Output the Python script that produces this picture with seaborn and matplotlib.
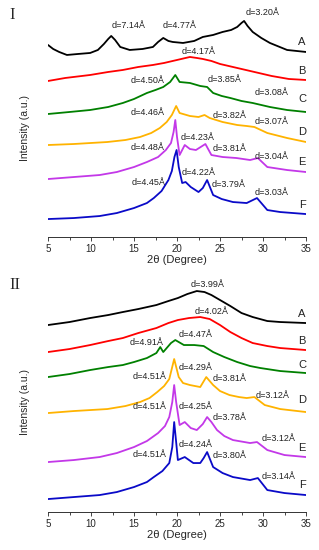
import numpy as np
import matplotlib
matplotlib.use("Agg")
import matplotlib.pyplot as plt
import seaborn as sns
import pandas as pd

fs = 6.5
ls = 7

# ---- panel I : 2theta (deg) and intensity (a.u.), stacked ----
tt_I_A = [5, 5.6, 6.3, 7.2, 8.5, 9.9, 10.8, 11.5, 12.0, 12.35, 12.8, 13.4, 14.5, 16, 17.2, 17.8, 18.4, 19, 19.5, 20.7, 22, 23, 24.2, 25.3, 26.3, 27, 27.5, 27.8, 28.2, 28.8, 29.8, 30.8, 32.8, 35]
in_I_A = [192, 188, 185, 182, 183, 184, 187, 193, 198, 201, 197, 190, 187, 188, 190, 195, 199, 196, 195, 194, 196, 200, 202, 205, 207, 210, 214, 216, 211, 205, 199, 194, 187, 185]
tt_I_B = [5, 7, 9.9, 12, 13.7, 15.5, 17.2, 18.5, 19.5, 20.5, 21.5, 22.3, 23, 24, 25, 27, 29, 31, 33, 35]
in_I_B = [156, 159, 162, 165, 167, 170, 172, 174, 176, 178, 180, 179, 178, 176, 173, 169, 165, 161, 158, 157]
tt_I_C = [5, 7.5, 9.9, 12, 13.7, 15, 16.5, 17.5, 18.4, 19.2, 19.8, 20.3, 21.5, 22.7, 23.5, 24.2, 25.2, 26.2, 27.5, 28.8, 30.8, 32.8, 35]
in_I_C = [123, 125, 127, 130, 134, 138, 144, 147, 150, 155, 162, 155, 154, 151, 150, 144, 141, 139, 136, 134, 130, 127, 125]
tt_I_D = [5, 8, 11.9, 14, 15.7, 17, 18, 18.8, 19.4, 19.9, 20.3, 21.5, 22.5, 23.2, 23.8, 25.3, 27, 28.1, 29, 30.5, 32.8, 35]
in_I_D = [92, 93, 95, 97, 100, 104, 109, 115, 122, 131, 124, 121, 120, 122, 119, 115, 112, 111, 110, 104, 99, 95]
tt_I_E = [5, 8, 11, 13, 15, 16.5, 17.8, 18.7, 19.3, 19.6, 19.8, 20.0, 20.3, 20.9, 21.5, 22.2, 23.3, 24, 25.3, 26.9, 28.5, 29.4, 30.5, 32.8, 35]
in_I_E = [58, 60, 62, 65, 70, 75, 80, 87, 94, 105, 117, 100, 82, 92, 88, 87, 93, 82, 80, 79, 77, 79, 70, 67, 65]
tt_I_F = [5, 8, 11, 13, 15, 16.5, 17.3, 18.2, 19, 19.4, 19.7, 19.95, 20.2, 20.6, 21.0, 21.6, 22.5, 23.0, 23.5, 24.2, 25.2, 26.5, 28.1, 29.3, 30.5, 32, 35]
in_I_F = [18, 19, 21, 24, 29, 34, 39, 46, 57, 66, 80, 87, 70, 54, 55, 50, 45, 49, 57, 42, 38, 35, 34, 39, 27, 25, 23]

# ---- panel II ----
tt_II_A = [5, 7.5, 9.9, 12, 13.7, 15.5, 17.6, 19, 20.1, 21.2, 22.3, 23.2, 24, 25, 26.2, 27.5, 28.8, 30.5, 32, 35]
in_II_A = [187, 190, 194, 197, 200, 203, 207, 211, 214, 218, 221, 220, 217, 212, 206, 199, 195, 191, 190, 189]
tt_II_B = [5, 7.5, 9.9, 12, 13.7, 15.5, 17.6, 19, 20.1, 21.4, 22.7, 23.8, 25, 26.2, 27.5, 28.8, 30.5, 32, 35]
in_II_B = [160, 163, 167, 171, 174, 179, 184, 189, 192, 194, 195, 193, 187, 180, 174, 169, 166, 164, 162]
tt_II_C = [5, 7.5, 9.9, 12, 13.7, 15, 16.5, 17.6, 18.05, 18.4, 19.3, 19.8, 20.8, 22, 23.1, 24.2, 25.5, 27, 28.5, 29.7, 32, 35]
in_II_C = [135, 138, 142, 145, 147, 150, 154, 159, 165, 160, 169, 172, 167, 167, 166, 160, 155, 150, 146, 144, 141, 139]
tt_II_D = [5, 8, 11.9, 14, 15.7, 16.8, 17.7, 18.5, 19.1, 19.67, 20.2, 20.7, 21.5, 22.7, 23.4, 24.2, 25, 26.1, 27.2, 28.1, 29.0, 30.2, 32, 35]
in_II_D = [99, 101, 103, 106, 110, 114, 120, 126, 133, 153, 135, 129, 127, 125, 135, 127, 121, 117, 115, 114, 115, 107, 103, 100]
tt_II_E = [5, 8, 11, 13, 15, 16.5, 17.8, 18.6, 19.1, 19.45, 19.67, 19.9, 20.3, 20.9, 21.6, 22.3, 23.0, 23.5, 24.0, 24.65, 25.5, 26.5, 28.5, 29.3, 30.5, 32.5, 35]
in_II_E = [50, 52, 55, 59, 65, 71, 79, 86, 95, 110, 127, 110, 87, 90, 84, 82, 88, 95, 90, 82, 76, 72, 69, 70, 62, 57, 55]
tt_II_F = [5, 8, 11, 13, 15, 16.5, 17.3, 18.3, 19.1, 19.45, 19.67, 19.9, 20.1, 20.9, 21.9, 22.7, 23.1, 23.5, 24.2, 25.3, 26.5, 28.5, 29.4, 30.5, 32.5, 35]
in_II_F = [13, 15, 17, 20, 25, 30, 35, 41, 49, 65, 90, 70, 52, 55, 49, 49, 54, 60, 45, 39, 35, 32, 34, 22, 19, 17]

samples = ["A", "B", "C", "D", "E", "F"]
colors = ["#000000", "#ff0000", "#008000", "#ffb300", "#c338e8", "#0a0ac8"]

# peak labels: text, 2theta, height
notes_I = [("d=7.14Å", 14.4, 211), ("d=4.77Å", 20.35, 211), ("d=3.20Å", 29.9, 224),
           ("d=4.17Å", 22.45, 185), ("d=4.50Å", 16.6, 156), ("d=3.85Å", 25.5, 157),
           ("d=3.08Å", 31.05, 144), ("d=4.46Å", 16.6, 124), ("d=3.82Å", 26.15, 121),
           ("d=3.07Å", 30.95, 116), ("d=4.23Å", 22.35, 100), ("d=4.48Å", 16.6, 90),
           ("d=3.81Å", 26.15, 89), ("d=3.04Å", 30.95, 81), ("d=4.22Å", 22.45, 65),
           ("d=4.45Å", 16.75, 55), ("d=3.79Å", 26.05, 53), ("d=3.03Å", 30.95, 45)]
notes_II = [("d=3.99Å", 23.5, 228), ("d=4.02Å", 24.05, 201), ("d=4.47Å", 22.2, 178),
            ("d=4.91Å", 16.5, 170), ("d=4.29Å", 22.2, 145), ("d=4.51Å", 16.85, 136),
            ("d=3.81Å", 26.15, 134), ("d=3.12Å", 31.15, 117), ("d=4.25Å", 22.2, 106),
            ("d=4.51Å", 16.85, 106), ("d=3.78Å", 26.15, 95), ("d=3.12Å", 31.75, 74),
            ("d=4.24Å", 22.2, 68), ("d=4.51Å", 16.85, 58), ("d=3.80Å", 26.15, 57),
            ("d=3.14Å", 31.75, 36)]
lab_y_I = [195, 166, 138, 105, 75, 32]
lab_y_II = [198, 171, 147, 112, 64, 27]


def to_frame(tts, ins):
    rows = []
    for s, t, v in zip(samples, tts, ins):
        rows.append(pd.DataFrame({"two_theta": t, "intensity": v, "sample": s}))
    return pd.concat(rows, ignore_index=True)


dat_I = to_frame([tt_I_A, tt_I_B, tt_I_C, tt_I_D, tt_I_E, tt_I_F],
                 [in_I_A, in_I_B, in_I_C, in_I_D, in_I_E, in_I_F])
dat_II = to_frame([tt_II_A, tt_II_B, tt_II_C, tt_II_D, tt_II_E, tt_II_F],
                  [in_II_A, in_II_B, in_II_C, in_II_D, in_II_E, in_II_F])

sns.set_style("white")
plt.rcParams["font.family"] = ["Liberation Sans", "DejaVu Sans"]

fig = plt.figure(figsize=(3.19, 5.5), dpi=100)
ax1 = fig.add_axes([0.1505, 0.569, 0.8088, 0.422])
ax2 = fig.add_axes([0.1505, 0.069, 0.8088, 0.4255])

for ax, dat, notes, laby, ymax in [(ax1, dat_I, notes_I, lab_y_I, 232),
                                   (ax2, dat_II, notes_II, lab_y_II, 234)]:
    sns.lineplot(data=dat, x="two_theta", y="intensity", hue="sample",
                 palette=colors, estimator=None, sort=False, linewidth=1.3,
                 legend=False, ax=ax)
    for txt, x, y in notes:
        ax.text(x, y, txt, fontsize=fs, ha="center", va="center", color="#222222")
    for s, y in zip(samples, laby):
        ax.text(34.55, y, s, fontsize=8, ha="center", va="center", color="#222222")
    ax.set_xlim(5, 35)
    ax.set_ylim(0, ymax)
    ax.set_yticks([])
    ax.set_xticks([5, 10, 15, 20, 25, 30, 35])
    ax.set_xticks(np.arange(7.5, 35, 5), minor=True)
    ax.tick_params(axis="x", which="major", labelsize=ls, length=3, width=0.6,
                   direction="out", bottom=True, pad=2)
    ax.tick_params(axis="x", which="minor", length=2, width=0.6,
                   direction="out", bottom=True)
    for sp in ["top", "right", "left"]:
        ax.spines[sp].set_visible(False)
    ax.spines["bottom"].set_linewidth(0.7)
    ax.spines["bottom"].set_color("#333333")
    ax.set_xlabel("2θ (Degree)", fontsize=8, labelpad=1)
    ax.set_ylabel("Intensity (a.u.)", fontsize=7.5)
    ax.yaxis.set_label_coords(-0.07, 0.47)

fig.text(0.03, 0.972, "I", fontsize=12, family="Liberation Serif", va="center")
fig.text(0.03, 0.482, "II", fontsize=12, family="Liberation Serif", va="center")

fig.savefig("out.png", dpi=100)
